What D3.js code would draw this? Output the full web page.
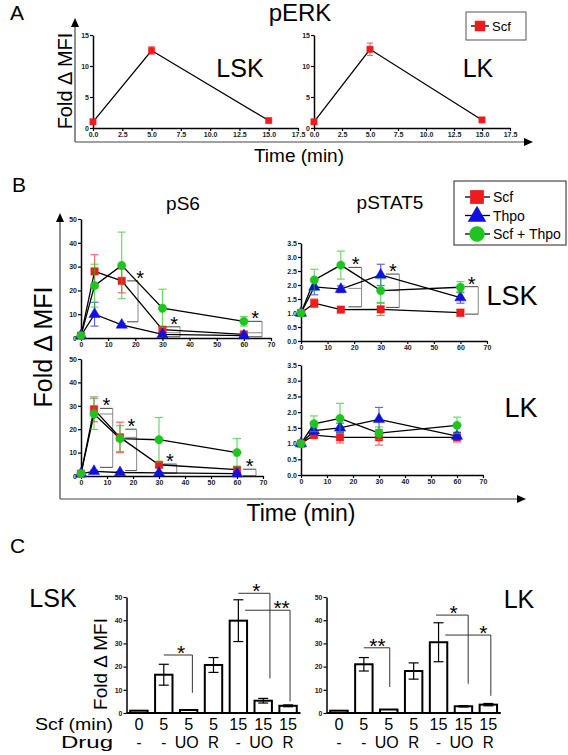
<!DOCTYPE html>
<html><head><meta charset="utf-8">
<script src="https://cdn.jsdelivr.net/npm/d3@7"></script>
<style>
body{margin:0;background:#fff}
svg{display:block;font-family:Arial,"Liberation Sans",Helvetica,sans-serif}
.tick text{font-size:7px;font-weight:bold;fill:#222}
</style>
</head><body><svg id="c" width="568" height="755"></svg>
<script>
// ---------------- DATA ----------------
// Panel A : pERK
const erkTimes = [0, 5, 15];
const erkLSK = [1, 12.5, 1.2], erkLSKErr = [0, 0.6, 0];
const erkLK = [1, 12.7, 1.3], erkLKErr = [0, 1.0, 0];
const erkXTicks = [0, 2.5, 5, 7.5, 10, 12.5, 15, 17.5];
const erkYTicks = [0, 5, 10, 15];

// Panel B : pS6 / pSTAT5
const bTimes = [0, 5, 15, 30, 60];
const bXTicks = [0, 10, 20, 30, 40, 50, 60, 70];
const s6YTicks = [0, 10, 20, 30, 40, 50];
const st5YTicks = [0, 0.5, 1, 1.5, 2, 2.5, 3, 3.5];
const seriesNames = ["Scf", "Thpo", "Scf + Thpo"];

const s6LskScf = [1, 28, 24, 3.5, 1.5],   s6LskScfErr = [0, 7, 5, 1, 0.5];
const s6LskThpo = [1, 10, 5.5, 1.5, 1],   s6LskThpoErr = [0, 5, 0.5, 0.5, 0.3];
const s6LskBoth = [1, 22, 30.5, 12.5, 7], s6LskBothErr = [0, 9, 14, 8, 2];
const s6LkScf = [1, 28.5, 16.5, 4.8, 2.7], s6LkScfErr = [0, 5.3, 6.5, 1, 0.8];
const s6LkThpo = [1, 2, 1.5, 1.3, 1],      s6LkThpoErr = [0, 0.5, 0.4, 0.3, 0.3];
const s6LkBoth = [1, 26.5, 16, 15.5, 10],  s6LkBothErr = [0, 6.6, 5.5, 9.5, 6];

const st5LskScf = [1, 1.35, 1.12, 1.13, 1.01], st5LskScfErr = [0, 0.15, 0.08, 0.22, 0.12];
const st5LskThpo = [1, 1.93, 1.85, 2.36, 1.55], st5LskThpoErr = [0, 0.28, 0.12, 0.38, 0.2];
const st5LskBoth = [1, 2.18, 2.71, 1.8, 1.92], st5LskBothErr = [0, 0.38, 0.5, 0.42, 0.2];
const st5LkScf = [1, 1.27, 1.2, 1.2, 1.2],     st5LkScfErr = [0, 0.1, 0.18, 0.25, 0.15];
const st5LkThpo = [1, 1.41, 1.5, 1.77, 1.24],  st5LkThpoErr = [0, 0.12, 0.15, 0.38, 0.12];
const st5LkBoth = [1, 1.63, 1.8, 1.33, 1.58],  st5LkBothErr = [0, 0.25, 0.48, 0.2, 0.26];

// significance brackets [x1, x2, yTop, yMid(or null), yBottom, starX] (data units)
const s6LskSig = [[17, 21, 24, null, 6.8, 21.8], [30, 36.5, 4.7, 2.2, 0.5, 34.3], [61.5, 66.7, 7, 2.2, 0.5, 64.2]];
const s6LkSig = [[7.3, 12.2, 28.9, 26.5, 3.7, 9.8], [17, 21.4, 20, 16.5, 2.3, 19.4], [31.5, 36.8, 5.1, null, 1.2, 34.2], [62.3, 67.3, 2.9, null, 0.1, 64.9]];
const st5LskSig = [[17.8, 22.8, 2.63, 1.88, 1.22, 20.6], [32, 37, 2.39, 1.8, 1.2, 34.6], [61.7, 66.7, 1.94, null, 0.96, 64.2]];

// Panel C : bar charts
const cScfLabels = ["0", "5", "5", "5", "15", "15", "15"];
const cDrugLabels = ["-", "-", "UO", "R", "-", "UO", "R"];
const cYTicks = [0, 10, 20, 30, 40, 50];
const cLskVals = [1, 16.5, 1.3, 20.7, 39.8, 5.3, 3.1], cLskErr = [0, 4.5, 0, 3.2, 9, 1, 0.4];
const cLkVals = [1, 21, 1.5, 18.1, 30.5, 2.9, 3.6],   cLkErr = [0, 2.9, 0, 3.5, 8.4, 0.3, 0.5];
// [fromPos, toPos, yTop, yBottom, label, starPos] (positions in bar units)
const cLskSig = [[1, 2.15, 25, 8.7, "*", 1.7], [4, 5.27, 51.6, 14.9, "*", 4.72], [4.27, 6.08, 44.3, 5, "**", 5.74]];
const cLkSig = [[1, 2.04, 28.1, 11.2, "**", 1.55], [3.9, 5.19, 42.2, 12.6, "*", 4.6], [4.27, 6.1, 33.6, 7.4, "*", 5.8]];

// ---------------- DRAWING ----------------
const svg = d3.select("#c");
const COLORS = {Scf: "#ee1c1c", Thpo: "#1111dd", "Scf + Thpo": "#1fc41f"};
const SHAPES = {Scf: d3.symbolSquare, Thpo: d3.symbolTriangle, "Scf + Thpo": d3.symbolCircle};

function txt(x, y, s, size, opts = {}) {
  const t = svg.append("text").attr("x", x).attr("y", y).text(s)
    .attr("font-size", size).attr("fill", "#000");
  if (opts.anchor) t.attr("text-anchor", opts.anchor);
  if (opts.rotate) t.attr("transform", `rotate(-90,${x},${y})`);
  if (opts.weight) t.attr("font-weight", opts.weight);
  if (opts.len) t.attr("textLength", opts.len).attr("lengthAdjust", "spacingAndGlyphs");
  return t;
}

function styleAxis(g) {
  g.select(".domain").attr("stroke", "#000").attr("stroke-width", 1.5);
  g.selectAll(".tick line").attr("stroke", "#000").attr("stroke-width", 1.2);
}

function axes(x, y, xTicks, yTicks, xFmt, yFmt) {
  const gx = svg.append("g").attr("transform", `translate(0,${y.range()[0]})`)
    .call(d3.axisBottom(x).tickValues(xTicks).tickSize(3).tickSizeOuter(0).tickPadding(1).tickFormat(xFmt));
  styleAxis(gx);
  const gy = svg.append("g").attr("transform", `translate(${x.range()[0]},0)`)
    .call(d3.axisLeft(y).tickValues(yTicks).tickSize(3).tickSizeOuter(0).tickPadding(1).tickFormat(yFmt));
  styleAxis(gy);
}

function series(x, y, times, vals, errs, name, msize, cap) {
  const col = COLORS[name];
  const line = d3.line().x((d, i) => x(times[i])).y(d => y(d));
  svg.append("path").datum(vals).attr("d", line).attr("fill", "none")
    .attr("stroke", "#000").attr("stroke-width", 1.3);
  return () => {
    const g = svg.append("g");
    vals.forEach((v, i) => {
      const e = errs[i];
      if (e > 0) {
        const cx = x(times[i]);
        const eg = g.append("g").attr("stroke", col).attr("stroke-width", 1.2).attr("opacity", 0.65);
        eg.append("line").attr("x1", cx).attr("x2", cx).attr("y1", y(v - e)).attr("y2", y(v + e));
        eg.append("line").attr("x1", cx - cap).attr("x2", cx + cap).attr("y1", y(v + e)).attr("y2", y(v + e));
        eg.append("line").attr("x1", cx - cap).attr("x2", cx + cap).attr("y1", y(Math.max(v - e, 0))).attr("y2", y(Math.max(v - e, 0)));
      }
    });
    vals.forEach((v, i) => {
      g.append("path").attr("d", d3.symbol().type(SHAPES[name]).size(msize)())
        .attr("transform", `translate(${x(times[i])},${y(v)})`)
        .attr("fill", col).attr("stroke", col).attr("stroke-opacity", 0.5).attr("stroke-width", 1);
    });
  };
}

function sigBrackets(x, y, list) {
  list.forEach(([x1, x2, yt, ym, yb, sx]) => {
    const g = svg.append("g").attr("stroke", "#444").attr("stroke-width", 1).attr("fill", "none");
    g.append("line").attr("x1", x(x1)).attr("x2", x(x2)).attr("y1", y(yt)).attr("y2", y(yt));
    g.append("line").attr("x1", x(x2)).attr("x2", x(x2)).attr("y1", y(yt)).attr("y2", y(yb)).attr("stroke", "#888");
    g.append("line").attr("x1", x(x1)).attr("x2", x(x2)).attr("y1", y(yb)).attr("y2", y(yb));
    if (ym !== null) g.append("line").attr("x1", x(x1)).attr("x2", x(x2)).attr("y1", y(ym)).attr("y2", y(ym)).attr("stroke", "#888");
    txt(x(sx), y(yt) - 7 + 11, "*", 20, {anchor: "middle"});
  });
}

function arrowAxes(x0, yTop, y0, xRight) {
  const g = svg.append("g").attr("stroke", "#444").attr("stroke-width", 1.2);
  g.append("line").attr("x1", x0).attr("x2", x0).attr("y1", y0).attr("y2", yTop + 5);
  g.append("line").attr("x1", x0).attr("x2", xRight - 5).attr("y1", y0).attr("y2", y0);
  svg.append("path").attr("d", `M${x0},${yTop}L${x0 - 4},${yTop + 9}L${x0 + 4},${yTop + 9}Z`).attr("fill", "#000");
  svg.append("path").attr("d", `M${xRight},${y0}L${xRight - 9},${y0 - 4}L${xRight - 9},${y0 + 4}Z`).attr("fill", "#000");
}

// ===== Panel A =====
txt(10, 20, "A", 21);
txt(300, 21, "pERK", 24, {anchor: "middle"});
arrowAxes(75, 18, 142, 533);
txt(72, 81, "Fold \u0394 MFI", 20, {anchor: "middle", rotate: true});
txt(299, 162, "Time (min)", 19, {anchor: "middle"});
const fmtA = d3.format(".1f");
[[93, 298, erkLSK, erkLSKErr], [314, 510, erkLK, erkLKErr]].forEach(([xa, xb, vals, errs]) => {
  const x = d3.scaleLinear().domain([0, 17.5]).range([xa, xb]);
  const y = d3.scaleLinear().domain([0, 15]).range([128, 35]);
  axes(x, y, erkXTicks, erkYTicks, fmtA, d3.format("d"));
  const m = series(x, y, erkTimes, vals, errs, "Scf", 40, 3);
  m();
});
txt(240, 77, "LSK", 25, {anchor: "middle"});
txt(478, 77, "LK", 25, {anchor: "middle"});
// legend A
svg.append("rect").attr("x", 466).attr("y", 12).attr("width", 60).attr("height", 28)
  .attr("fill", "#fff").attr("stroke", "#555").attr("stroke-width", 1);
svg.append("line").attr("x1", 471).attr("x2", 489).attr("y1", 26).attr("y2", 26).attr("stroke", "#000").attr("stroke-width", 1.3);
svg.append("path").attr("d", d3.symbol().type(d3.symbolSquare).size(110)()).attr("transform", "translate(480,26)").attr("fill", "#ee1c1c");
txt(492, 31, "Scf", 13);

// ===== Panel B =====
txt(12, 192, "B", 21);
txt(183, 210, "pS6", 19, {anchor: "middle"});
txt(390, 209, "pSTAT5", 19, {anchor: "middle"});
arrowAxes(60, 213, 499, 526);
txt(52, 347, "Fold \u0394 MFI", 25, {anchor: "middle", rotate: true});
txt(301, 521, "Time (min)", 23, {anchor: "middle"});

function bPanel(xr, yr, ydom, yTicks, yFmt, data, sigs) {
  const x = d3.scaleLinear().domain([0, 70]).range(xr);
  const y = d3.scaleLinear().domain(ydom).range(yr);
  axes(x, y, bXTicks, yTicks, d3.format("d"), yFmt);
  if (sigs) sigBrackets(x, y, sigs);
  const draws = data.map(([vals, errs], k) => series(x, y, bTimes, vals, errs, seriesNames[k], 55, 4));
  draws.forEach(f => f());
}
bPanel([81, 271], [338, 219], [0, 50], s6YTicks, d3.format("d"),
  [[s6LskScf, s6LskScfErr], [s6LskThpo, s6LskThpoErr], [s6LskBoth, s6LskBothErr]], s6LskSig);
bPanel([81, 263], [476, 359], [0, 50], s6YTicks, d3.format("d"),
  [[s6LkScf, s6LkScfErr], [s6LkThpo, s6LkThpoErr], [s6LkBoth, s6LkBothErr]], s6LkSig);
bPanel([301, 487], [341, 243], [0, 3.5], st5YTicks, d3.format(".1f"),
  [[st5LskScf, st5LskScfErr], [st5LskThpo, st5LskThpoErr], [st5LskBoth, st5LskBothErr]], st5LskSig);
bPanel([301, 483], [475, 365], [0, 3.5], st5YTicks, d3.format(".1f"),
  [[st5LkScf, st5LkScfErr], [st5LkThpo, st5LkThpoErr], [st5LkBoth, st5LkBothErr]], null);
txt(512, 305, "LSK", 27, {anchor: "middle"});
txt(521, 417, "LK", 27, {anchor: "middle"});
// legend B
svg.append("rect").attr("x", 454).attr("y", 181).attr("width", 112).attr("height", 64)
  .attr("fill", "#fff").attr("stroke", "#222").attr("stroke-width", 1);
seriesNames.forEach((n, i) => {
  const yy = 197 + i * 18.5;
  svg.append("line").attr("x1", 465).attr("x2", 490).attr("y1", yy).attr("y2", yy).attr("stroke", "#000").attr("stroke-width", 1.3);
  svg.append("path").attr("d", d3.symbol().type(SHAPES[n]).size(n === "Thpo" ? 150 : 190)())
    .attr("transform", `translate(477,${yy + (n === "Thpo" ? 1 : 0)})`).attr("fill", COLORS[n]);
  txt(493, yy + 5, n, 14);
});

// ===== Panel C =====
txt(10, 553, "C", 21);
function barPanel(xr, vals, errs, sigs) {
  const xb = d3.scaleBand().domain(d3.range(vals.length)).range(xr).paddingInner(0.3).paddingOuter(0.15);
  const y = d3.scaleLinear().domain([0, 50]).range([713, 597]);
  const pos = f => xb(0) + xb.bandwidth() / 2 + f * xb.step();
  const gy = svg.append("g").attr("transform", `translate(${xr[0]},0)`)
    .call(d3.axisLeft(y).tickValues(cYTicks).tickSize(3).tickSizeOuter(0).tickPadding(1));
  styleAxis(gy);
  svg.append("g").selectAll("rect").data(vals).join("rect")
    .attr("x", (d, i) => xb(i)).attr("width", xb.bandwidth())
    .attr("y", d => y(d)).attr("height", d => y(0) - y(d))
    .attr("fill", "#fff").attr("stroke", "#000").attr("stroke-width", 2);
  svg.append("line").attr("x1", xr[0]).attr("x2", xr[1]).attr("y1", y(0)).attr("y2", y(0))
    .attr("stroke", "#000").attr("stroke-width", 2);
  vals.forEach((v, i) => {
    const e = errs[i]; if (!e) return;
    const cx = pos(i);
    const g = svg.append("g").attr("stroke", "#000").attr("stroke-width", 1.2);
    g.append("line").attr("x1", cx).attr("x2", cx).attr("y1", y(v - e)).attr("y2", y(v + e));
    g.append("line").attr("x1", cx - 5).attr("x2", cx + 5).attr("y1", y(v + e)).attr("y2", y(v + e));
    g.append("line").attr("x1", cx - 5).attr("x2", cx + 5).attr("y1", y(v - e)).attr("y2", y(v - e));
  });
  sigs.forEach(([f1, f2, yt, yb, lab, sp]) => {
    const g = svg.append("g").attr("stroke", "#333").attr("stroke-width", 1);
    g.append("line").attr("x1", pos(f1)).attr("x2", pos(f2)).attr("y1", y(yt)).attr("y2", y(yt));
    g.append("line").attr("x1", pos(f2)).attr("x2", pos(f2)).attr("y1", y(yt)).attr("y2", y(yb));
    txt(pos(sp), y(yt) - 7 + 12, lab, 21, {anchor: "middle"});
  });
  cScfLabels.forEach((s, i) => txt(pos(i), 730, s, 16, {anchor: "middle", len: s.length === 2 ? 18 : 9}));
  cDrugLabels.forEach((s, i) => {
    const w = s === "UO" ? 24 : (s === "R" ? 11 : 5);
    txt(pos(i) + (s === "UO" ? -2 : 0), 748, s, 16, {anchor: "middle", len: w});
  });
}
barPanel([126.5, 300.5], cLskVals, cLskErr, cLskSig);
barPanel([326.5, 500.8], cLkVals, cLkErr, cLkSig);
txt(53, 607, "LSK", 25, {anchor: "middle"});
txt(519, 608, "LK", 25, {anchor: "middle"});
txt(107, 664, "Fold \u0394 MFI", 19, {anchor: "middle", rotate: true});
txt(113, 730, "Scf (min)", 16, {anchor: "end", len: 78});
txt(113, 748, "Drug", 16, {anchor: "end", len: 52});
</script></body></html>
